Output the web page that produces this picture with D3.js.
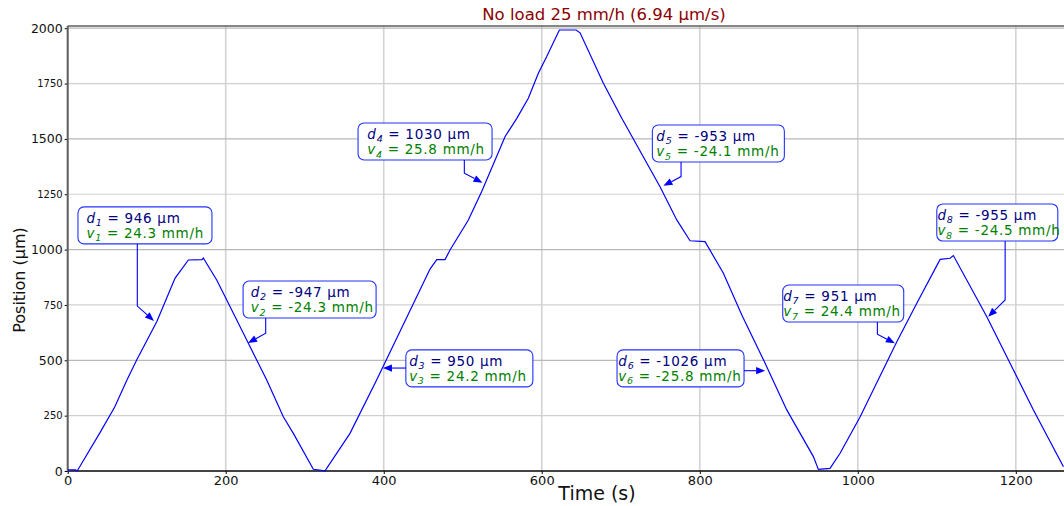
<!DOCTYPE html>
<html>
<head>
<meta charset="utf-8">
<script src="https://cdn.jsdelivr.net/npm/d3@7"></script>
<style>
  body { margin: 0; background: #fff; }
  svg { display: block; font-family: "DejaVu Sans", sans-serif; }
</style>
</head>
<body>
<svg></svg>
<script>
const size = {w: 1064, h: 506};
const svg = d3.select('svg').attr('width', size.w).attr('height', size.h);

// position trace: time (s) and position (µm)
const times = [0, 10, 12, 40.5, 59.5, 75, 87.3, 112.7, 135.8, 152.7, 170, 171.6, 188.6, 201.3, 226.6, 239.2,
  251.9, 272.9, 285.6, 310.9, 325.7, 357.3, 391, 458.6, 467.1, 477.6, 483.9, 507.1, 524, 553.5, 568.4,
  583, 595.7, 606.3, 622.3, 643.4, 648.5, 678, 701.3, 749.7, 770.9, 787.7, 806.7, 829.9, 853.2, 882.7,
  910.1, 943.8, 950.1, 964.9, 977.6, 1003, 1049.4, 1074.7, 1104.2, 1116.8, 1121, 1163.3, 1197, 1222.3, 1260.3];
const positions = [5, 5, 0, 171, 289, 411, 501, 674, 870, 953, 955, 962, 863, 772, 592, 501,
  411, 245, 170, 8, 1, 170, 411, 912, 955, 955, 998, 1134, 1262, 1510, 1593,
  1684, 1797, 1872, 1992, 1992, 1979, 1751, 1593, 1284, 1134, 1040, 1036, 893, 705, 487,
  276, 65, 7, 12, 80, 245, 584, 758, 956, 961, 973, 697, 456, 276, 19];

// annotations: displacement (µm), speed (mm/h), and the trace point each arrow marks
const dVals = [946, -947, 950, 1030, -953, -1026, 951, -955];
const vVals = [24.3, -24.3, 24.2, 25.8, -24.1, -25.8, 24.4, -24.5];
const tipT = [109.2, 228.2, 399, 525, 754, 882.7, 1047, 1165];
const tipP = [678, 578, 465, 1302, 1288, 453, 577, 697];

const xTicks = [0, 200, 400, 600, 800, 1000, 1200];
const yTicks = [0, 250, 500, 750, 1000, 1250, 1500, 1750, 2000];
const title = 'No load 25 mm/h (6.94 µm/s)';

// box placement (top-left, in data units), box width, text inset, arrow elbow
const boxAt = [[13, 1193], [222, 858], [428, 547], [367.5, 1572], [740, 1563], [695.3, 547], [905, 840], [1100, 1206]];
const boxW = [134, 133, 127, 134, 132, 127, 121, 121];
const inset = [8.5, 7.7, 3.3, 9.3, 4, 1.3, 0.6, 0.6];
const elbow = [[88.1, 745], [250.6, 622], null, [502, 1345], [776.3, 1330], null, [1024.8, 617.6], [1186.5, 772.5]];

const x = d3.scaleLinear().domain([0, 1261]).range([67.7, 1064]);
const y = d3.scaleLinear().domain([0, 2010]).range([471, 26]);

// grid
const grid = svg.append('g');
grid.selectAll('line.v').data(xTicks).join('line')
  .attr('x1', d => x(d)).attr('x2', d => x(d))
  .attr('y1', y.range()[1]).attr('y2', y.range()[0])
  .attr('stroke', '#d3d3d3').attr('stroke-width', 1.6);
grid.selectAll('line.h').data(yTicks).join('line')
  .attr('x1', x.range()[0]).attr('x2', x.range()[1])
  .attr('y1', d => y(d)).attr('y2', d => y(d))
  .attr('stroke', d => d % 500 === 0 ? '#b8b8b8' : '#d0d0d0').attr('stroke-width', 1.2);

// axes
const yAxis = svg.append('g').attr('transform', `translate(${x.range()[0]},0)`)
  .call(d3.axisLeft(y).tickValues(yTicks).tickFormat(d3.format('d')).tickSize(3).tickPadding(2));
yAxis.select('.domain').remove();
yAxis.selectAll('text')
  .attr('font-family', '"DejaVu Sans", sans-serif')
  .attr('font-size', d => d % 500 === 0 ? 12.5 : 10)
  .attr('fill', '#111');

const xAxis = svg.append('g').attr('transform', `translate(0,${y(0)})`)
  .call(d3.axisBottom(x).tickValues(xTicks).tickFormat(d3.format('d')).tickSize(3).tickPadding(2));
xAxis.select('.domain').remove();
xAxis.selectAll('text')
  .attr('font-family', '"DejaVu Sans", sans-serif')
  .attr('font-size', 13)
  .attr('fill', '#111');

// spines
svg.append('line').attr('x1', x.range()[0]).attr('x2', x.range()[1])
  .attr('y1', y.range()[1]).attr('y2', y.range()[1]).attr('stroke', '#111').attr('stroke-width', 1.2);
svg.append('line').attr('x1', x.range()[0]).attr('x2', x.range()[1])
  .attr('y1', y(0)).attr('y2', y(0)).attr('stroke', '#111').attr('stroke-width', 1.5);
svg.append('line').attr('x1', x.range()[0]).attr('x2', x.range()[0])
  .attr('y1', y.range()[1]).attr('y2', y(0)).attr('stroke', '#606060').attr('stroke-width', 2);

// trace
const line = d3.line().x(d => x(d[0])).y(d => y(d[1]));
svg.append('path')
  .datum(d3.zip(times, positions))
  .attr('d', line)
  .attr('fill', 'none')
  .attr('stroke', '#0000ff')
  .attr('stroke-width', 1.2);

// labels
svg.append('text').attr('x', 604).attr('y', 20).attr('text-anchor', 'middle')
  .attr('font-size', 16.5).attr('fill', '#8b0000').text(title);
svg.append('text').attr('x', 597).attr('y', 500).attr('text-anchor', 'middle')
  .attr('font-size', 19).attr('fill', '#111').text('Time (s)');
svg.append('text').attr('transform', 'translate(25,280) rotate(-90)').attr('text-anchor', 'middle')
  .attr('font-size', 16).attr('fill', '#111').text('Position (µm)');

// annotations
const notes = svg.append('g');
function noteLine(g, tx, ty, sym, idx, rest, color) {
  const t = g.append('text').attr('x', tx).attr('y', ty)
    .attr('font-size', 13.5).attr('letter-spacing', 0.7).attr('fill', color);
  t.append('tspan').attr('font-style', 'italic').text(sym);
  t.append('tspan').attr('font-style', 'italic').attr('font-size', 9.5).attr('dy', 3.2).text(idx);
  t.append('tspan').attr('dy', -3.2).text(rest);
}
dVals.forEach((dv, i) => {
  const bx = x(boxAt[i][0]), by = y(boxAt[i][1]);
  const bw = boxW[i], bh = 37;
  const g = notes.append('g');
  g.append('rect').attr('x', bx).attr('y', by).attr('width', bw).attr('height', bh)
    .attr('rx', 6).attr('fill', '#fff').attr('stroke', '#2233ff').attr('stroke-width', 1.1);
  noteLine(g, bx + inset[i], by + 15.7, 'd', i + 1, ` = ${dv} µm`, '#000080');
  noteLine(g, bx + inset[i], by + 31.4, 'v', i + 1, ` = ${vVals[i].toFixed(1)} mm/h`, '#008000');

  // arrow path
  const tx = x(tipT[i]), ty = y(tipP[i]);
  let pts;
  if (elbow[i]) {
    const ex = x(elbow[i][0]), ey = y(elbow[i][1]);
    pts = [[ex, by + bh], [ex, ey], [tx, ty]];
  } else {
    const sx = tx < bx ? bx : bx + bw;
    pts = [[sx, ty], [tx, ty]];
  }
  const a = pts[pts.length - 2];
  const ang = Math.atan2(ty - a[1], tx - a[0]);
  const hl = 9, hw = 3.6;
  const baseX = tx - hl * Math.cos(ang), baseY = ty - hl * Math.sin(ang);
  const shaft = pts.slice(0, -1).concat([[baseX, baseY]]);
  notes.append('path').attr('d', d3.line()(shaft))
    .attr('fill', 'none').attr('stroke', '#0000ff').attr('stroke-width', 1.1);
  notes.append('path')
    .attr('d', d3.line()([
      [tx, ty],
      [baseX + hw * Math.sin(ang), baseY - hw * Math.cos(ang)],
      [baseX - hw * Math.sin(ang), baseY + hw * Math.cos(ang)]
    ]) + 'Z')
    .attr('fill', '#0000ff');
});
</script>
</body>
</html>
